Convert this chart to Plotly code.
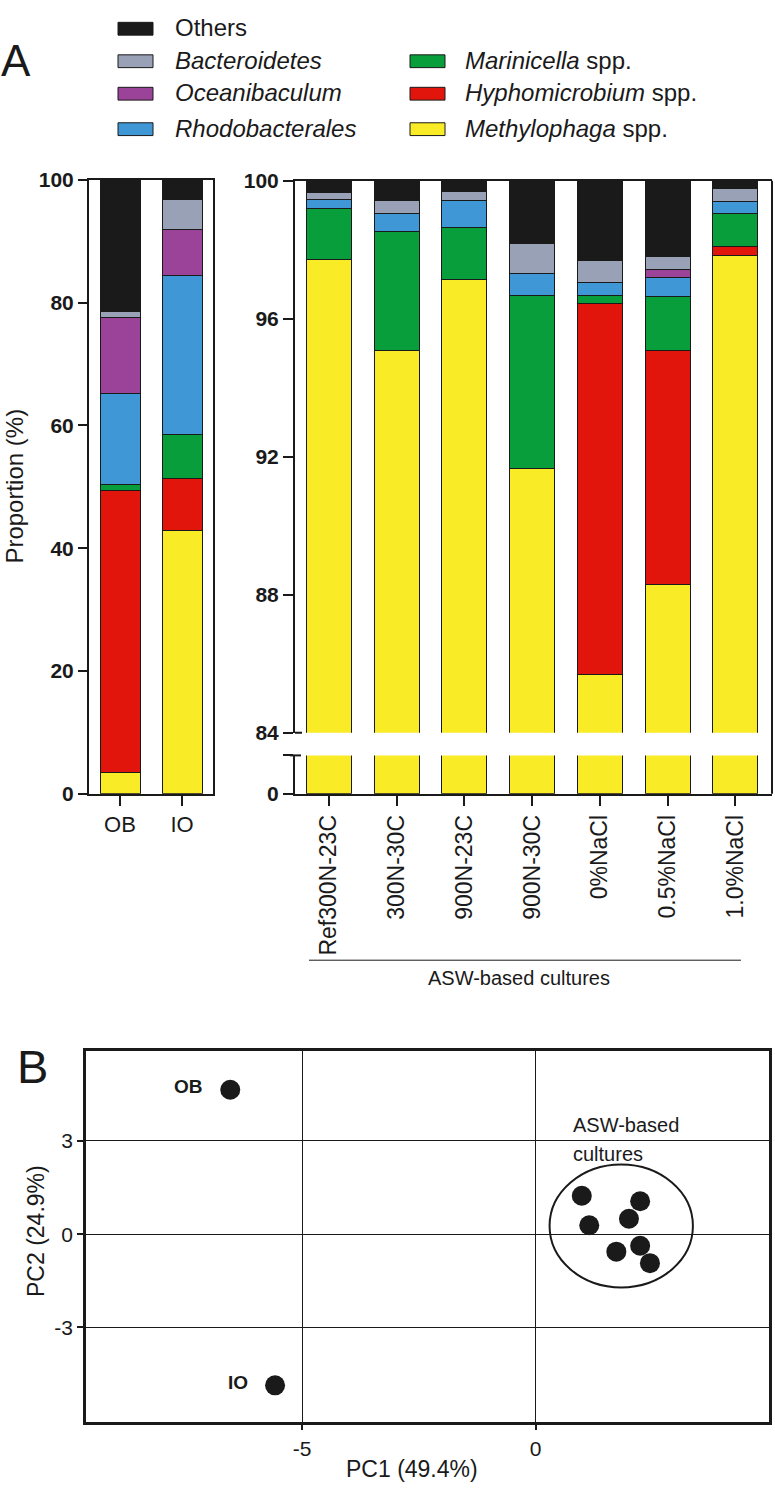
import plotly.graph_objects as go

W, H = 775, 1496
FONT = "Liberation Sans, Arial, Helvetica, sans-serif"
INK = "#1a1a1a"

# ---------------- data ----------------
series_names = ["Methylophaga", "Hyphomicrobium", "Marinicella", "Rhodobacterales",
                "Oceanibaculum", "Bacteroidetes", "Others"]
series_labels = ["<i>Methylophaga</i> spp.", "<i>Hyphomicrobium</i> spp.", "<i>Marinicella</i> spp.",
                 "<i>Rhodobacterales</i>", "<i>Oceanibaculum</i>", "<i>Bacteroidetes</i>", "Others"]
series_colors = ["#f9eb26", "#e2150c", "#089e3c", "#3f97d6", "#9b4399", "#98a1b6", "#1a1a1a"]

source_cats = ["OB", "IO"]
methylophaga_src = [3.45, 42.9]
hyphomicrobium_src = [45.95, 8.4]
marinicella_src = [1.0, 7.3]
rhodobacterales_src = [14.8, 25.9]
oceanibaculum_src = [12.4, 7.4]
bacteroidetes_src = [1.0, 4.9]
others_src = [21.4, 3.2]

culture_cats = ["Ref300N-23C", "300N-30C", "900N-23C", "900N-30C", "0%NaCl", "0.5%NaCl", "1.0%NaCl"]
methylophaga_asw = [97.73, 95.09, 97.15, 91.65, 85.69, 88.31, 97.85]
hyphomicrobium_asw = [0.0, 0.0, 0.0, 0.0, 10.75, 6.78, 0.26]
marinicella_asw = [1.46, 3.43, 1.49, 5.03, 0.24, 1.55, 0.93]
rhodobacterales_asw = [0.28, 0.52, 0.80, 0.64, 0.38, 0.57, 0.37]
oceanibaculum_asw = [0.0, 0.0, 0.0, 0.0, 0.0, 0.21, 0.0]
bacteroidetes_asw = [0.20, 0.40, 0.25, 0.86, 0.64, 0.38, 0.37]
others_asw = [0.33, 0.56, 0.31, 1.82, 2.30, 2.20, 0.22]

left_ticks = [0, 20, 40, 60, 80, 100]
upper_ticks = [84, 88, 92, 96, 100]
group_label = "ASW-based cultures"

pca_names = ["OB", "IO", "Ref300N-23C", "300N-30C", "900N-23C", "900N-30C", "0%NaCl", "0.5%NaCl", "1.0%NaCl"]
pc1 = [-6.54, -5.58, 0.99, 1.15, 2.24, 2.00, 1.73, 2.24, 2.45]
pc2 = [4.65, -4.86, 1.24, 0.29, 1.06, 0.50, -0.56, -0.37, -0.93]
cluster_ellipse = dict(x0=0.30, x1=3.37, y0=-1.71, y1=2.24)
pc1_ticks = [-5, 0]
pc2_ticks = [-3, 0, 3]
pc1_title = "PC1 (49.4%)"
pc2_title = "PC2 (24.9%)"

src_values = [methylophaga_src, hyphomicrobium_src, marinicella_src, rhodobacterales_src,
              oceanibaculum_src, bacteroidetes_src, others_src]
asw_values = [methylophaga_asw, hyphomicrobium_asw, marinicella_asw, rhodobacterales_asw,
              oceanibaculum_asw, bacteroidetes_asw, others_asw]


def px(x):
    return x / W


def py(y):
    return 1 - y / H


fig = go.Figure()

for name, col, vs, va in zip(series_names, series_colors, src_values, asw_values):
    line = dict(color=INK, width=1)
    fig.add_trace(go.Bar(x=source_cats, y=vs, name=name, marker=dict(color=col, line=line),
                         width=0.645, xaxis="x", yaxis="y", showlegend=False))
    fig.add_trace(go.Bar(x=culture_cats, y=va, name=name, marker=dict(color=col, line=line),
                         width=0.664, xaxis="x2", yaxis="y2", showlegend=False))
    fig.add_trace(go.Bar(x=culture_cats, y=va, name=name, marker=dict(color=col, line=line),
                         width=0.664, xaxis="x3", yaxis="y3", showlegend=False))

fig.add_trace(go.Scatter(x=pc1, y=pc2, mode="markers", text=pca_names,
                         marker=dict(size=20, color=INK), xaxis="x4", yaxis="y4", showlegend=False))

axis_common = dict(showgrid=False, zeroline=False, linecolor=INK, linewidth=2,
                   tickcolor=INK, tickwidth=2, fixedrange=True)
bold_tick = dict(family=FONT, size=21, color=INK, weight="bold")

fig.update_layout(
    width=W, height=H, autosize=False,
    margin=dict(l=0, r=0, t=0, b=0),
    paper_bgcolor="white", plot_bgcolor="white",
    barmode="stack",
    font=dict(family=FONT, color=INK),
    xaxis=dict(axis_common, domain=[px(89), px(213)], anchor="y", range=[-0.5, 1.5],
               type="category", showline=True, mirror=True, ticks="outside", ticklen=10,
               tickfont=dict(family=FONT, size=22, color=INK)),
    yaxis=dict(axis_common, domain=[py(794), py(170.5)], anchor="x", range=[0, 100],
               tickvals=left_ticks, showline=True, mirror=True, ticks="outside", ticklen=9,
               tickfont=bold_tick),
    xaxis2=dict(axis_common, domain=[px(295), px(772)], anchor="y2", range=[-0.5, 6.54],
                type="category", showline=True, side="top", ticks="", showticklabels=False),
    yaxis2=dict(axis_common, domain=[py(732), py(171.5)], anchor="x2", range=[84, 100],
                tickvals=upper_ticks, showline=True, ticks="outside", ticklen=10,
                tickfont=bold_tick),
    xaxis3=dict(axis_common, domain=[px(295), px(772)], anchor="y3", range=[-0.5, 6.54],
                type="category", showline=True, ticks="outside", ticklen=10, tickangle=-90,
                tickfont=dict(family=FONT, size=23, color=INK)),
    yaxis3=dict(axis_common, domain=[py(794), py(755)], anchor="x3", range=[0, 1],
                tickvals=[0, 1], ticktext=["0", ""], showline=True, ticks="outside", ticklen=10,
                tickfont=bold_tick),
    xaxis4=dict(domain=[px(86), px(769)], anchor="y4", range=[-9.63, 5.0],
                tickvals=pc1_ticks, ticktext=[str(v) for v in pc1_ticks],
                showgrid=True, gridcolor=INK, gridwidth=1.2, zeroline=False,
                showline=True, mirror=True, linecolor=INK, linewidth=2.5,
                ticks="outside", ticklen=6, tickwidth=1.5, tickcolor=INK,
                tickfont=dict(family=FONT, size=21, color=INK), fixedrange=True),
    yaxis4=dict(domain=[py(1431.7), py(1055.7)], anchor="x4", range=[-6.03, 5.88],
                tickvals=pc2_ticks, ticktext=[str(v) for v in pc2_ticks],
                showgrid=True, gridcolor=INK, gridwidth=1.2, zeroline=False,
                showline=True, mirror=True, linecolor=INK, linewidth=2.5,
                ticks="outside", ticklen=6, tickwidth=1.5, tickcolor=INK,
                tickfont=dict(family=FONT, size=21, color=INK), fixedrange=True),
)

shapes = []
annotations = []

# right border of the broken-axis panel
shapes.append(dict(type="line", xref="paper", yref="paper", x0=px(772), x1=px(772),
                   y0=py(171.5), y1=py(794), line=dict(color=INK, width=2)))
# crossbars at the axis break
shapes.append(dict(type="line", xref="paper", yref="paper", x0=px(295), x1=px(302),
                   y0=py(732), y1=py(732), line=dict(color=INK, width=2)))
shapes.append(dict(type="line", xref="paper", yref="paper", x0=px(290), x1=px(301),
                   y0=py(755), y1=py(755), line=dict(color=INK, width=2)))

# group bracket
shapes.append(dict(type="line", xref="paper", yref="paper", x0=px(309), x1=px(741),
                   y0=py(963), y1=py(963), line=dict(color=INK, width=1)))
annotations.append(dict(text=group_label, xref="paper", yref="paper", x=px(519), y=py(981),
                        showarrow=False, font=dict(size=20, color=INK), xanchor="center",
                        yanchor="middle"))

# y title of bar panel
annotations.append(dict(text="Proportion (%)", xref="paper", yref="paper", x=px(15), y=py(482),
                        showarrow=False, textangle=-90, font=dict(size=24, color=INK),
                        xanchor="center", yanchor="middle"))

# panel letters
annotations.append(dict(text="A", xref="paper", yref="paper", x=px(16), y=py(49), showarrow=False,
                        font=dict(size=44, color=INK), xanchor="center", yanchor="middle"))
annotations.append(dict(text="B", xref="paper", yref="paper", x=px(32), y=py(1071), showarrow=False,
                        font=dict(size=47, color=INK), xanchor="center", yanchor="middle"))

# manual legend (two columns)
legend_col1 = ["Others", "Bacteroidetes", "Oceanibaculum", "Rhodobacterales"]
legend_col2 = ["Marinicella", "Hyphomicrobium", "Methylophaga"]
rows_y = [17, 50, 83, 119]
for col_items, sx, tx, row_offset in [(legend_col1, 118, 173, 0), (legend_col2, 410, 463, 1)]:
    for k, nm in enumerate(col_items):
        i = series_names.index(nm)
        yc = rows_y[k + row_offset]
        shapes.append(dict(type="rect", xref="paper", yref="paper", x0=px(sx), x1=px(sx + 35),
                           y0=py(yc + 6.5), y1=py(yc - 6.5), fillcolor=series_colors[i],
                           line=dict(color=INK, width=1)))
        annotations.append(dict(text=series_labels[i], xref="paper", yref="paper", x=px(tx),
                                y=py(yc - 1), showarrow=False, xanchor="left", yanchor="middle",
                                font=dict(size=24, color=INK)))

# PCA annotations
shapes.append(dict(type="circle", xref="x4", yref="y4", line=dict(color=INK, width=2),
                   **cluster_ellipse))
for nm in ["OB", "IO"]:
    j = pca_names.index(nm)
    annotations.append(dict(text="<b>%s</b>" % nm, xref="x4", yref="y4", x=pc1[j], y=pc2[j],
                            showarrow=False, xanchor="right", yanchor="middle", xshift=-25,
                            yshift=3, font=dict(size=19, color=INK)))
annotations.append(dict(text="ASW-based", xref="paper", yref="paper", x=px(571), y=py(1130),
                        showarrow=False, xanchor="left", yanchor="middle", font=dict(size=20, color=INK)))
annotations.append(dict(text="cultures", xref="paper", yref="paper", x=px(571), y=py(1160),
                        showarrow=False, xanchor="left", yanchor="middle", font=dict(size=20, color=INK)))
annotations.append(dict(text=pc1_title, xref="paper", yref="paper", x=px(412), y=py(1480),
                        showarrow=False, xanchor="center", yanchor="middle", font=dict(size=23, color=INK)))
annotations.append(dict(text=pc2_title, xref="paper", yref="paper", x=px(36), y=py(1238),
                        showarrow=False, textangle=-90, xanchor="center", yanchor="middle",
                        font=dict(size=23, color=INK)))

fig.update_layout(shapes=shapes, annotations=annotations)

fig.write_html("out.html", config={"displayModeBar": False},
               post_script="document.body.style.margin='0';")
